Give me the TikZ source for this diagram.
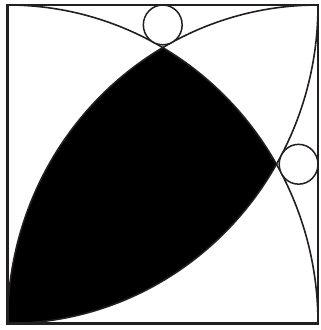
\documentclass[tikz,border=0pt]{standalone}
\usepackage{xcolor}
\usepackage{tikz}
\usetikzlibrary{calc}
\definecolor{C_INK}{HTML}{231F20}
\tikzset{
  %% -- outer square --
  fig/frame/.style={draw=C_INK, line width=2.2pt},
  %% -- quarter-circle arcs --
  fig/arc/.style={draw=C_INK, line width=1.6pt},
  %% -- shaded lens --
  fig/lens/.style={fill=black, draw=black, line width=0.4pt},
  %% -- small tangent circles --
  fig/dot/.style={draw=C_INK, line width=1.5pt, fill=white},
}
\begin{document}
\begin{tikzpicture}[x=1pt, y=1pt]
%% ── Canvas (same size as the reference) ─────────────────────
\useasboundingbox (0,0) rectangle (321,330);

\begin{scope}[shift={(7.5,6.5)}, x=310.5pt, y=318.5pt]
%% ── Corners of the unit square ──────────────────────────────
\coordinate (BL) at (0,0);
\coordinate (BR) at (1,0);
\coordinate (TR) at (1,1);
\coordinate (TL) at (0,1);

%% ── Shaded region (three arcs meeting) ──────────────────────
\path[fig/lens] (BL) arc[start angle=180, end angle=120, radius=1]
  arc[start angle=60, end angle=30, radius=1]
  arc[start angle=-30, end angle=-90, radius=1] -- cycle;

%% ── Quarter circles about BL, BR and TL ─────────────────────
\draw[fig/arc] (TL) arc[start angle=90, end angle=0, radius=1];
\draw[fig/arc] (BL) arc[start angle=180, end angle=90, radius=1];
\draw[fig/arc] (BL) arc[start angle=-90, end angle=0, radius=1];

%% ── Small circles (radius 1/16 of the side) ─────────────────
\draw[fig/dot] (0.5,0.9375) circle[radius=0.0625];
\draw[fig/dot] (0.9375,0.5) circle[radius=0.0625];

%% ── Frame ───────────────────────────────────────────────────
\draw[fig/frame] (BL) rectangle (TR);
\end{scope}

\end{tikzpicture}
\end{document}
